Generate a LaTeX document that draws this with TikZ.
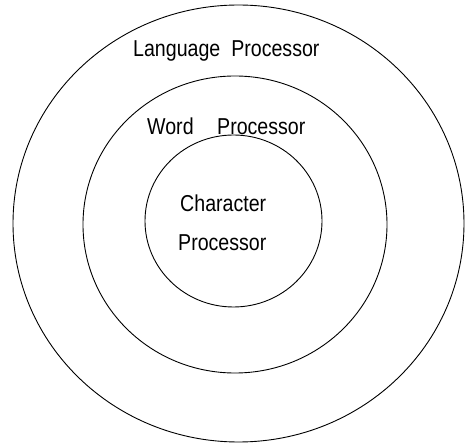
\documentclass[tikz,border=0pt]{standalone}
\usepackage{fontspec}
\usepackage{graphicx}
\setmainfont{Liberation Sans}
\newcommand{\tallt}[1]{\scalebox{0.98}[1.15]{#1}}
\begin{document}
\begin{tikzpicture}[x=1pt,y=-1pt,
  ring/.style={draw=black,line width=0.9pt},
  lbl/.style={anchor=base west,inner sep=0pt,font=\fontsize{20}{24}\selectfont}]
\useasboundingbox (0,0) rectangle (469,446);
\draw[ring] (238.5,223.5) ellipse [x radius=225.5, y radius=218.5];
\draw[ring] (235,224.5) ellipse [x radius=152, y radius=148.5];
\draw[ring] (233.5,221) ellipse [x radius=88.5, y radius=86];
\node[lbl] (lang) at (133,57) {\tallt{Language\ \ Processor}};
\node[lbl] (word) at (147,135) {\tallt{Word}};
\node[lbl] (wproc) at (217,135) {\tallt{Processor}};
\node[lbl] (char) at (180,212) {\tallt{Character}};
\node[lbl] (cproc) at (178,251) {\tallt{Processor}};
\end{tikzpicture}
\end{document}
